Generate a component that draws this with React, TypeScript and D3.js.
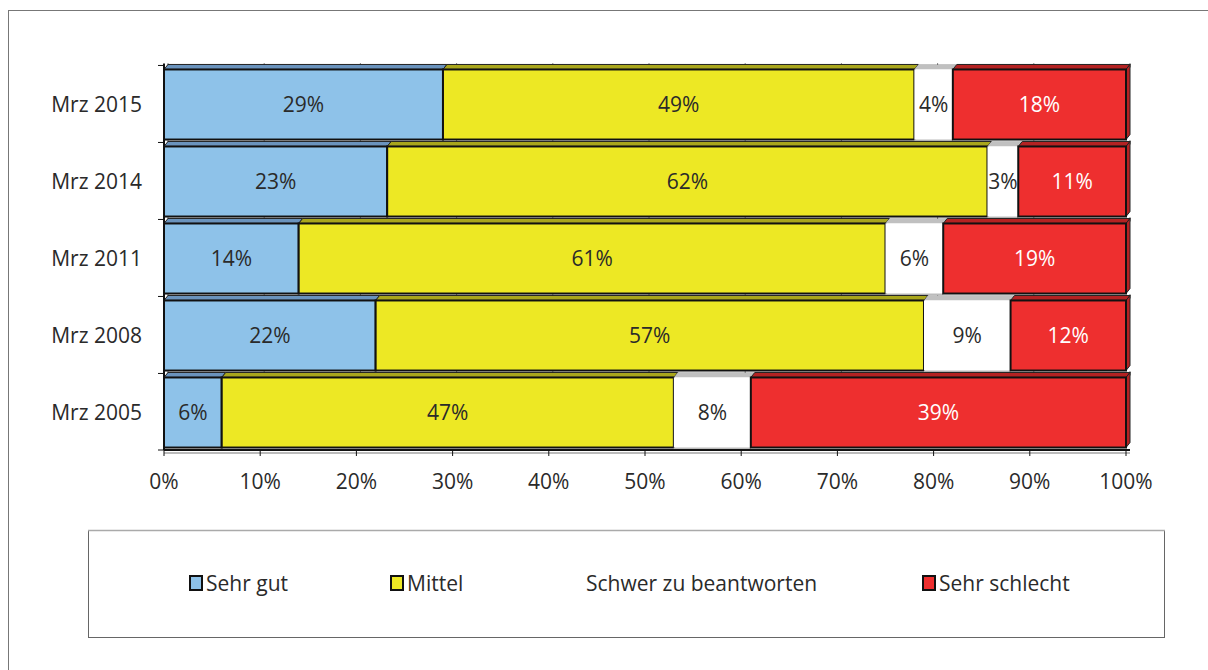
import { useRef, useEffect } from "react";
import * as d3 from "d3";

const CATEGORIES = ["Mrz 2015", "Mrz 2014", "Mrz 2011", "Mrz 2008", "Mrz 2005"];
const SERIES = ["Sehr gut", "Mittel", "Schwer zu beantworten", "Sehr schlecht"];
const SEHR_GUT = [29, 23.2, 14, 22, 6];
const MITTEL = [49, 62.4, 61, 57, 47];
const SCHWER = [4, 3.2, 6, 9, 8];
const SEHR_SCHLECHT = [18, 11.2, 19, 12, 39];
const X_TICKS = [0, 10, 20, 30, 40, 50, 60, 70, 80, 90, 100];

const FRONT = ["#8ec2e9", "#ede824", "#ffffff", "#ee2f2f"];
const TOP = ["#6a93bd", "#a9a61c", "#c0c0c0", "#b42222"];
const LABEL = ["#2a2a2a", "#2a2a2a", "#2a2a2a", "#ffffff"];
const FONT = "'Open Sans', 'DejaVu Sans', sans-serif";

export default function App() {
  const ref = useRef<SVGSVGElement>(null);

  useEffect(() => {
    if (!ref.current) return;
    const W = 1208;
    const H = 670;
    const svg = d3.select(ref.current);
    svg.selectAll("*").remove();
    svg.attr("width", W).attr("height", H);

    const values = [SEHR_GUT, MITTEL, SCHWER, SEHR_SCHLECHT];
    const rows = CATEGORIES.map((c, i) => ({ cat: c, vals: values.map((v) => v[i]) }));

    const x = d3.scaleLinear().domain([0, 100]).range([164, 1126]);
    const y = d3.scaleBand<string>().domain(CATEGORIES).range([66, 451]).paddingInner(0.09).paddingOuter(0.045);
    const dx = 4;
    const dy = 5;

    // outer frame
    svg.append("rect").attr("x", 8.5).attr("y", 10.5).attr("width", 1220).attr("height", 700)
      .attr("fill", "none").attr("stroke", "#777").attr("stroke-width", 1);

    const g = svg.append("g");
    const defs = svg.append("defs");

    // back lines with ticks at each band top
    CATEGORIES.forEach((c) => {
      const yy = (y(c) ?? 0) - dy + 1;
      g.append("line").attr("x1", x(0) + dx).attr("x2", x(100) + dx).attr("y1", yy).attr("y2", yy)
        .attr("stroke", "#999").attr("stroke-width", 2);
      X_TICKS.forEach((t) => {
        g.append("line").attr("x1", x(t) + dx).attr("x2", x(t) + dx).attr("y1", yy - 2).attr("y2", yy + 2)
          .attr("stroke", "#222").attr("stroke-width", 1);
      });
    });

    // bars
    rows.forEach((r, ri) => {
      const y0 = y(r.cat) ?? 0;
      const bh = y.bandwidth();
      let acc = 0;
      r.vals.forEach((v, si) => {
        const x0 = x(acc);
        const x1 = x(acc + v);
        acc += v;
        // top face
        g.append("path")
          .attr("d", `M${x0},${y0}L${x0 + dx},${y0 - dy}L${x1 + dx},${y0 - dy}L${x1},${y0}Z`)
          .attr("fill", TOP[si]).attr("stroke", si === 2 ? "none" : "#222").attr("stroke-width", 1);
        if (si === r.vals.length - 1) {
          g.append("path")
            .attr("d", `M${x1},${y0}L${x1 + dx},${y0 - dy}L${x1 + dx},${y0 + bh - dy}L${x1},${y0 + bh}Z`)
            .attr("fill", TOP[si]).attr("stroke", "#222").attr("stroke-width", 1);
        }
        g.append("rect").attr("x", x0).attr("y", y0).attr("width", x1 - x0).attr("height", bh)
          .attr("fill", FRONT[si]).attr("stroke", si === 2 ? "none" : "#111").attr("stroke-width", si === 2 ? 0 : 2);
        if (si === 2) {
          g.append("line").attr("x1", x0).attr("x2", x1).attr("y1", y0 + bh + 1).attr("y2", y0 + bh + 1)
            .attr("stroke", "#bbb").attr("stroke-width", 2);
        }
        const id = `clip-${ri}-${si}`;
        defs.append("clipPath").attr("id", id).append("rect")
          .attr("x", x0 + 1).attr("y", y0).attr("width", Math.max(0, x1 - x0 - 2)).attr("height", bh);
        g.append("text").attr("clip-path", `url(#${id})`)
          .attr("x", (x0 + x1) / 2).attr("y", y0 + bh / 2).attr("dy", "0.36em")
          .attr("text-anchor", "middle").attr("font-family", FONT).attr("font-size", 21)
          .attr("fill", LABEL[si]).text(`${Math.round(v)}%`);
      });
    });

    // left axis
    const yTop = (y(CATEGORIES[0]) ?? 0) - dy - 1;
    const yBot = 450;
    g.append("line").attr("x1", x(0)).attr("x2", x(0)).attr("y1", yTop).attr("y2", yBot)
      .attr("stroke", "#111").attr("stroke-width", 2);
    CATEGORIES.forEach((c) => {
      const yy = (y(c) ?? 0) - dy + 1;
      g.append("line").attr("x1", x(0) - 6).attr("x2", x(0)).attr("y1", yy).attr("y2", yy).attr("stroke", "#111");
    });
    g.append("line").attr("x1", x(0) - 6).attr("x2", x(0)).attr("y1", yBot).attr("y2", yBot).attr("stroke", "#111");

    // bottom axis
    g.append("line").attr("x1", x(0)).attr("x2", x(100) + dx).attr("y1", yBot).attr("y2", yBot)
      .attr("stroke", "#111").attr("stroke-width", 2);
    g.append("line").attr("x1", x(0)).attr("x2", x(100) + dx).attr("y1", yBot + 3).attr("y2", yBot + 3)
      .attr("stroke", "#bbb").attr("stroke-width", 2);
    X_TICKS.forEach((t) => {
      g.append("line").attr("x1", x(t)).attr("x2", x(t)).attr("y1", yBot).attr("y2", yBot + 6).attr("stroke", "#111");
      g.append("text").attr("x", x(t)).attr("y", 489).attr("text-anchor", "middle")
        .attr("font-family", FONT).attr("font-size", 21).attr("fill", "#2a2a2a").text(`${t}%`);
    });

    // category labels
    CATEGORIES.forEach((c) => {
      g.append("text").attr("x", 142).attr("y", (y(c) ?? 0) + y.bandwidth() / 2).attr("dy", "0.36em")
        .attr("text-anchor", "end").attr("font-family", FONT).attr("font-size", 21).attr("fill", "#2a2a2a").text(c);
    });

    // legend
    const lg = svg.append("g");
    lg.append("rect").attr("x", 88.5).attr("y", 530.5).attr("width", 1076).attr("height", 107)
      .attr("fill", "#fff").attr("stroke", "#666").attr("stroke-width", 1);
    lg.append("line").attr("x1", 88).attr("x2", 1165).attr("y1", 530.5).attr("y2", 530.5).attr("stroke", "#aaa").attr("stroke-width", 1.5);
    const legendX = [189, 390, 569, 922];
    SERIES.forEach((s, i) => {
      if (i !== 2) {
        lg.append("rect").attr("x", legendX[i] + 1).attr("y", 576).attr("width", 12).attr("height", 14)
          .attr("fill", FRONT[i]).attr("stroke", "#111").attr("stroke-width", 2);
      }
      lg.append("text").attr("x", legendX[i] + 17).attr("y", 583).attr("dy", "0.36em")
        .attr("font-family", FONT).attr("font-size", 21).attr("fill", "#2a2a2a").text(s);
    });
  }, []);

  return (
    <div style={{ position: "absolute", left: 0, top: 0 }}>
      <svg ref={ref} style={{ display: "block" }} />
    </div>
  );
}
